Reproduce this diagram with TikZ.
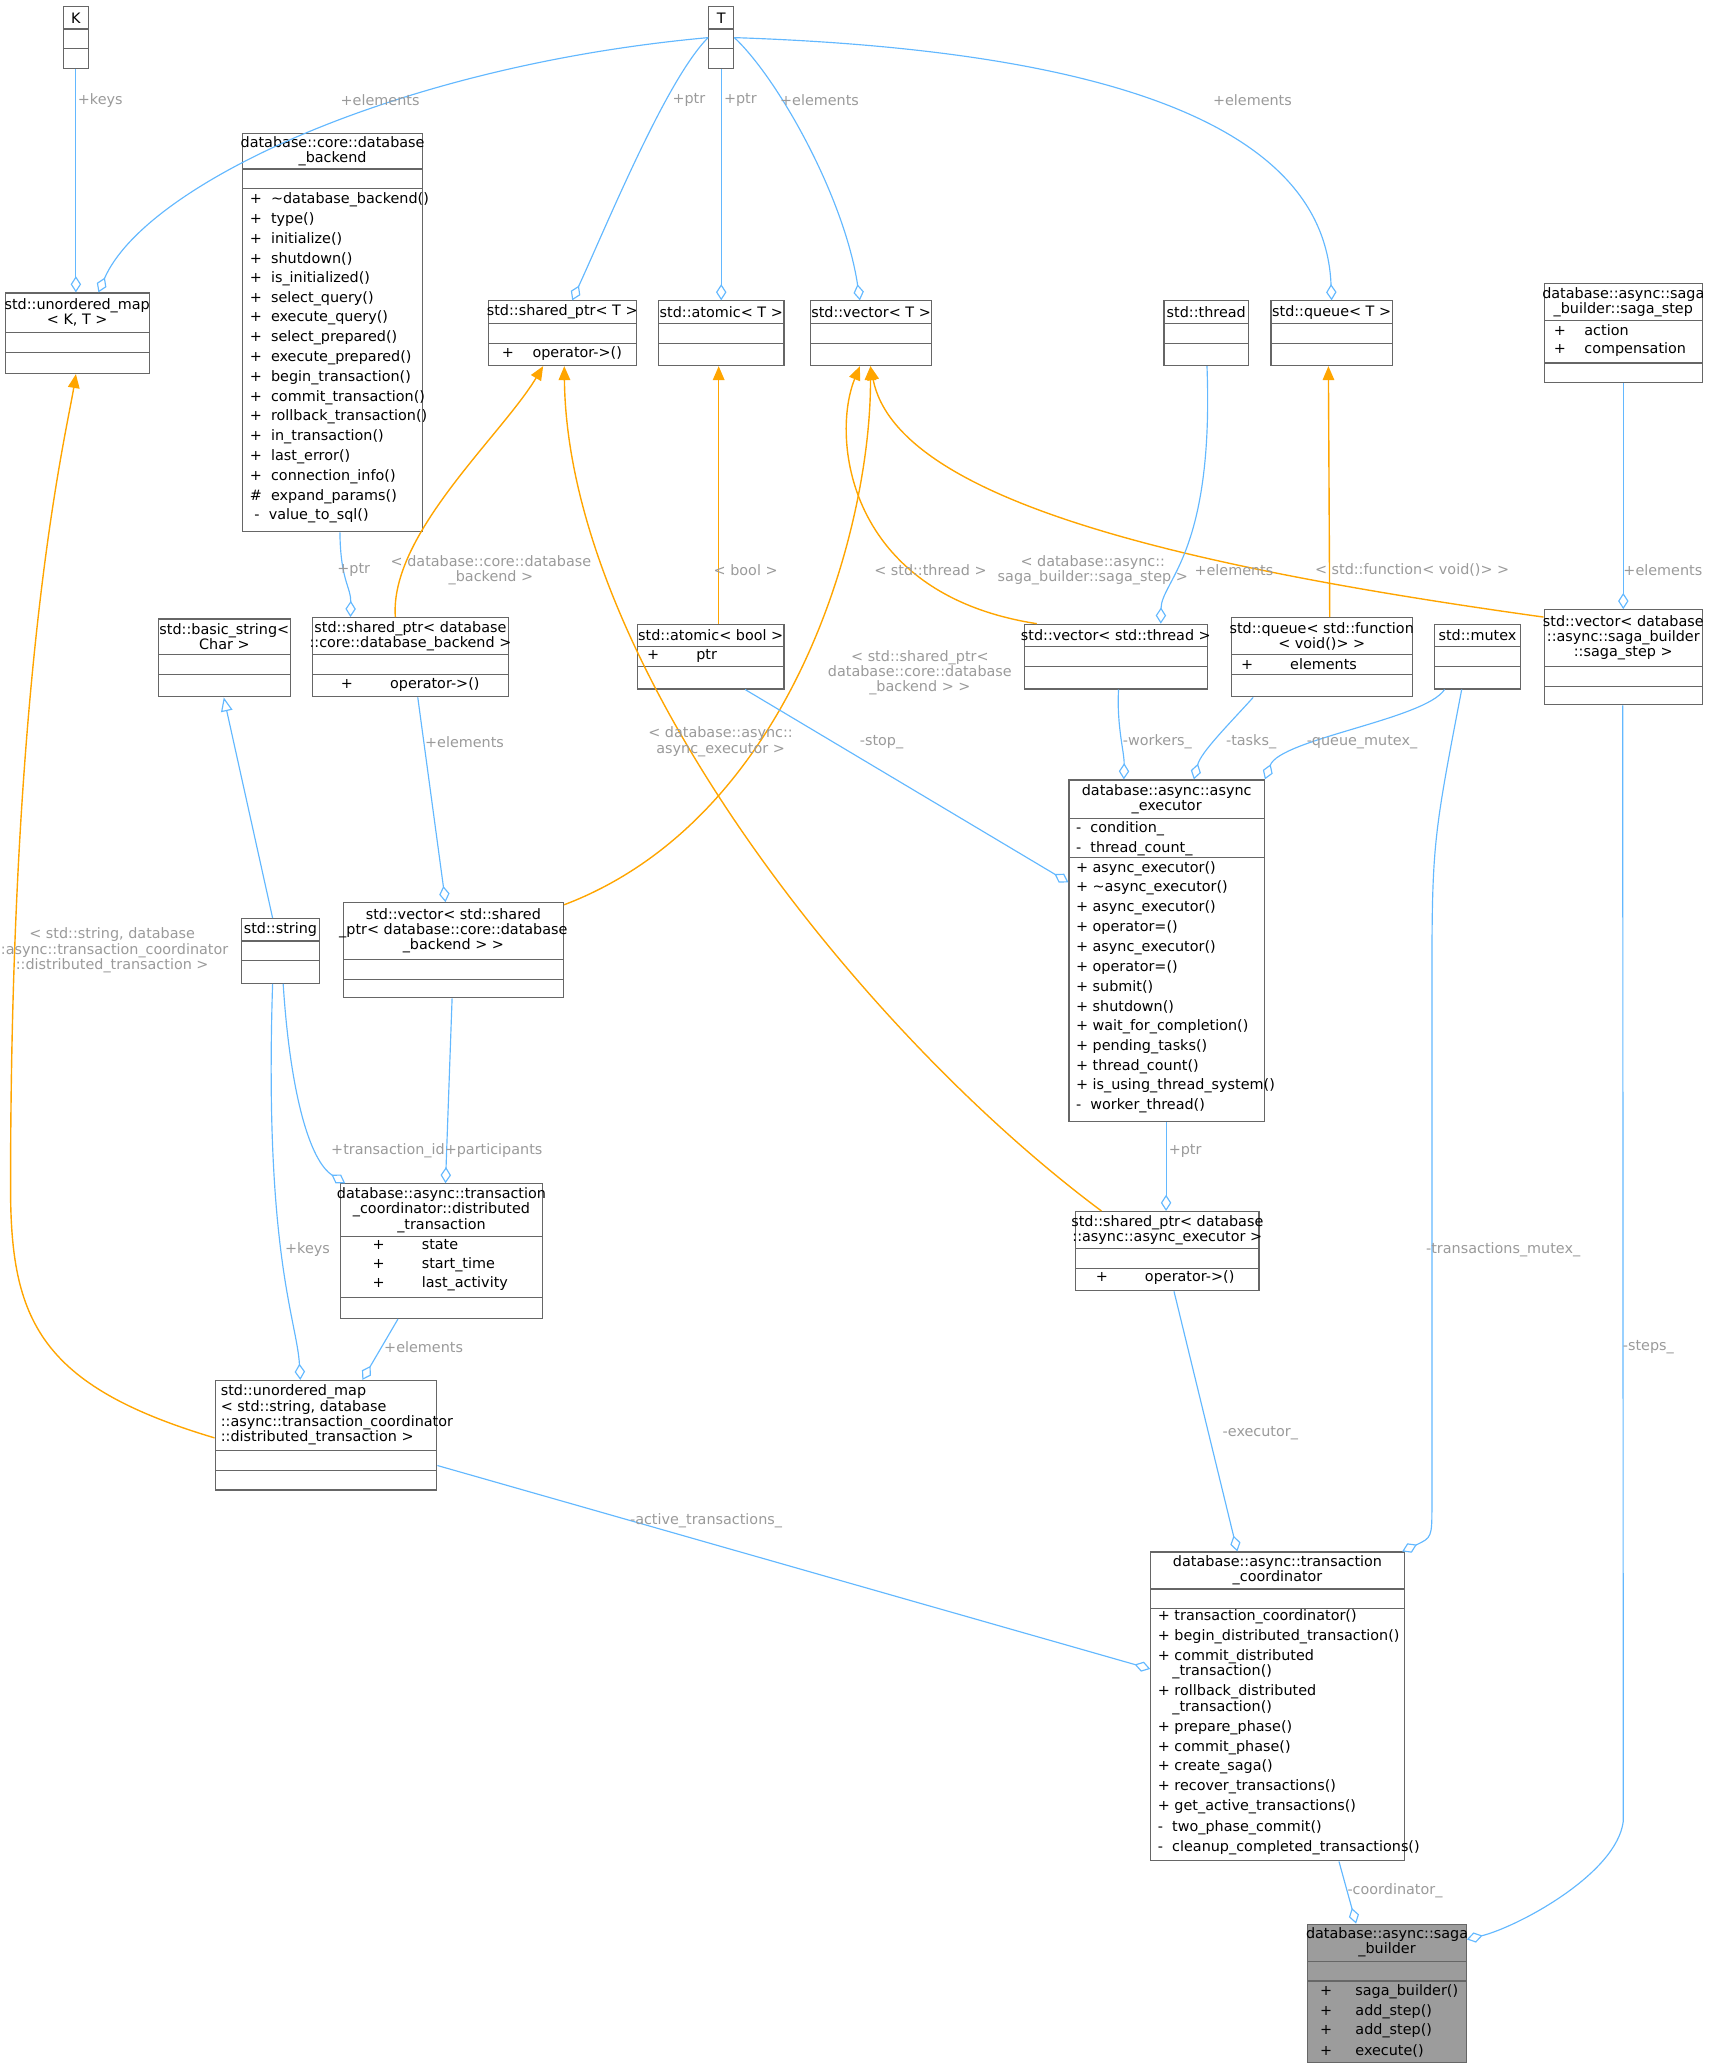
\documentclass[tikz,border=0pt]{standalone}
\usepackage{fontspec}
\setmainfont{DejaVu Sans}
\usetikzlibrary{fit,calc,arrows.meta}
\definecolor{eblue}{HTML}{63B8FF}
\definecolor{eor}{HTML}{FFA500}
\definecolor{lgray}{HTML}{9A9A9A}
\definecolor{bgray}{HTML}{666666}
\newcommand\ClsBox[5]{\node[clsb,fit={(#2,#3)(#4,#5)}] (#1) {};}
\newcommand\HLn[3]{\draw[clsl] (#1,#3) -- (#2,#3);}
\newcommand\Mem[3]{\node[mem] at (#1,#2) {#3};}
\newcommand\Ttl[3]{\node[ttl] at (#1,#2) {#3};}
\newcommand\Lbl[3]{\node[lbl] at (#1,#2) {#3};}
\begin{document}
\begin{tikzpicture}[x=0.02cm,y=-0.02cm,
  clsb/.style={draw=bgray,inner sep=0pt,line width=0.5pt},
  clsl/.style={draw=bgray,line width=0.5pt},
  txt/.style={font=\fontsize{6.2}{6.5}\selectfont,inner sep=0pt},
  mem/.style={txt,anchor=west},
  ttl/.style={txt,align=center},
  lbl/.style={txt,align=center,text=lgray},
  agg/.style={draw=eblue,line width=0.5pt,-{Diamond[open,length=7pt,width=4.5pt]}},
  tmpl/.style={draw=eor,line width=0.6pt,-{Triangle[length=6pt,width=5pt]},eor},
  inh/.style={draw=eblue,line width=0.5pt,-{Triangle[open,length=6pt,width=5pt]}}]
\useasboundingbox (0,0) rectangle (1296,1570);
% gray fill for saga_builder
\fill[gray!78] (991,1458) rectangle (1111,1563);
% ---- boxes
\ClsBox{K}{48}{5}{67}{52}\HLn{48}{67}{22}\HLn{48}{67}{37}\Ttl{57.5}{13.5}{K}
\ClsBox{T}{537}{5}{556}{52}\HLn{537}{556}{22}\HLn{537}{556}{37}\Ttl{546.5}{13.5}{T}
\ClsBox{umapKT}{4}{222}{113}{283}\HLn{4}{113}{252}\HLn{4}{113}{267}\Ttl{58.5}{237}{std::unordered\_map\\< K, T >}
\ClsBox{backend}{184}{101}{320}{403}\HLn{184}{320}{128}\HLn{184}{320}{143}\Ttl{252}{114.5}{database::core::database\\\_backend}
\foreach \t [count=\i from 0] in {+\ \ \textasciitilde database\_backend(),+\ \ type(),+\ \ initialize(),+\ \ shutdown(),+\ \ is\_initialized(),+\ \ select\_query(),+\ \ execute\_query(),+\ \ select\_prepared(),+\ \ execute\_prepared(),+\ \ begin\_transaction(),+\ \ commit\_transaction(),+\ \ rollback\_transaction(),+\ \ in\_transaction(),+\ \ last\_error(),+\ \ connection\_info(),\#\ \ expand\_params(),\ -\ \ value\_to\_sql()}
  {\node[mem] at (189,151+15*\i) {\t};}
\ClsBox{sharedT}{370}{228}{482}{277}\HLn{370}{482}{245}\HLn{370}{482}{260}\Ttl{426}{236.5}{std::shared\_ptr< T >}\Mem{380}{268}{+\hspace{8pt}operator->()}
\ClsBox{atomicT}{499}{228}{594}{277}\HLn{499}{594}{245}\HLn{499}{594}{260}\Ttl{546.5}{236.5}{std::atomic< T >}
\ClsBox{vecT}{614}{228}{706}{277}\HLn{614}{706}{245}\HLn{614}{706}{260}\Ttl{660}{236.5}{std::vector< T >}
\ClsBox{thread}{882}{228}{946}{277}\HLn{882}{946}{245}\HLn{882}{946}{260}\Ttl{914}{236.5}{std::thread}
\ClsBox{queueT}{963}{228}{1055}{277}\HLn{963}{1055}{245}\HLn{963}{1055}{260}\Ttl{1009}{236.5}{std::queue< T >}
\ClsBox{sagaStep}{1170}{215}{1290}{290}\HLn{1170}{1290}{243}\HLn{1170}{1290}{275}\Ttl{1230}{229}{database::async::saga\\\_builder::saga\_step}
\Mem{1177}{250}{+\hspace{8pt}action}\Mem{1177}{265}{+\hspace{8pt}compensation}
\ClsBox{basicString}{120}{469}{220}{528}\HLn{120}{220}{496}\HLn{120}{220}{511}\Ttl{170}{482.5}{std::basic\_string<\\Char >}
\ClsBox{spBackend}{237}{468}{385}{528}\HLn{237}{385}{496}\HLn{237}{385}{511}\Ttl{311}{482}{std::shared\_ptr< database\\::core::database\_backend >}\Mem{258}{519}{+\hspace{16pt}operator->()}
\ClsBox{atomicBool}{483}{473}{594}{522}\HLn{483}{594}{490}\HLn{483}{594}{505}\Ttl{538.5}{481.5}{std::atomic< bool >}\Mem{490}{497}{+\hspace{16pt}ptr}
\ClsBox{vecThread}{776}{473}{915}{522}\HLn{776}{915}{490}\HLn{776}{915}{505}\Ttl{845.5}{481.5}{std::vector< std::thread >}
\ClsBox{queueFn}{933}{468}{1070}{528}\HLn{933}{1070}{496}\HLn{933}{1070}{511}\Ttl{1001.5}{482}{std::queue< std::function\\< void()> >}\Mem{940}{503}{+\hspace{16pt}elements}
\ClsBox{mutex}{1087}{473}{1152}{522}\HLn{1087}{1152}{490}\HLn{1087}{1152}{505}\Ttl{1119.5}{481.5}{std::mutex}
\ClsBox{vecSaga}{1170}{462}{1290}{534}\HLn{1170}{1290}{505}\HLn{1170}{1290}{520}\Ttl{1230}{483.5}{std::vector< database\\::async::saga\_builder\\::saga\_step >}
\ClsBox{ae}{810}{591}{958}{850}\HLn{810}{958}{620}\HLn{810}{958}{650}\Ttl{884}{605.5}{database::async::async\\\_executor}
\Mem{815}{628}{-\ \ condition\_}\Mem{815}{643}{-\ \ thread\_count\_}
\foreach \t [count=\i from 0] in {+\ async\_executor(),+\ \textasciitilde async\_executor(),+\ async\_executor(),+\ operator=(),+\ async\_executor(),+\ operator=(),+\ submit(),+\ shutdown(),+\ wait\_for\_completion(),+\ pending\_tasks(),+\ thread\_count(),+\ is\_using\_thread\_system(),-\ \ worker\_thread()}
  {\node[mem] at (815,658+15*\i) {\t};}
\ClsBox{string}{183}{696}{242}{745}\HLn{183}{242}{713}\HLn{183}{242}{728}\Ttl{212.5}{704.5}{std::string}
\ClsBox{vecSpB}{260}{684}{427}{756}\HLn{260}{427}{727}\HLn{260}{427}{742}\Ttl{343.5}{705.5}{std::vector< std::shared\\\_ptr< database::core::database\\\_backend > >}
\ClsBox{dt}{258}{897}{411}{999}\HLn{258}{411}{937}\HLn{258}{411}{983}\Ttl{334.5}{917}{database::async::transaction\\\_coordinator::distributed\\\_transaction}
\Mem{282}{943}{+\hspace{16pt}state}\Mem{282}{958}{+\hspace{16pt}start\_time}\Mem{282}{973}{+\hspace{16pt}last\_activity}
\ClsBox{spAE}{815}{918}{954}{978}\HLn{815}{954}{946}\HLn{815}{954}{961}\Ttl{884.5}{932}{std::shared\_ptr< database\\::async::async\_executor >}\Mem{830}{968}{+\hspace{16pt}operator->()}
\ClsBox{umapS}{163}{1046}{331}{1129}\HLn{163}{331}{1099}\HLn{163}{331}{1114}
\node[txt,align=left,anchor=west] at (167,1072) {std::unordered\_map\\< std::string, database\\::async::transaction\_coordinator\\::distributed\_transaction >};
\ClsBox{coord}{872}{1176}{1064}{1410}\HLn{872}{1064}{1204}\HLn{872}{1064}{1219}\Ttl{968}{1190}{database::async::transaction\\\_coordinator}
\Mem{877}{1225}{+\ transaction\_coordinator()}\Mem{877}{1240}{+\ begin\_distributed\_transaction()}
\Mem{877}{1255}{+\ commit\_distributed}\Mem{888}{1267}{\_transaction()}
\Mem{877}{1282}{+\ rollback\_distributed}\Mem{888}{1294}{\_transaction()}
\Mem{877}{1309}{+\ prepare\_phase()}\Mem{877}{1324}{+\ commit\_phase()}\Mem{877}{1339}{+\ create\_saga()}
\Mem{877}{1354}{+\ recover\_transactions()}\Mem{877}{1369}{+\ get\_active\_transactions()}
\Mem{877}{1385}{-\ \ two\_phase\_commit()}\Mem{877}{1400}{-\ \ cleanup\_completed\_transactions()}
\ClsBox{sagaB}{991}{1458}{1111}{1563}\HLn{991}{1111}{1486}\HLn{991}{1111}{1501}\Ttl{1051}{1472}{database::async::saga\\\_builder}
\Mem{1000}{1509}{+\hspace{10pt}saga\_builder()}\Mem{1000}{1524}{+\hspace{10pt}add\_step()}\Mem{1000}{1539}{+\hspace{10pt}add\_step()}\Mem{1000}{1554}{+\hspace{10pt}execute()}
% ---- edges
\draw[agg] (K.south) -- (K.south |- umapKT.north);
\draw[agg] (T.west) .. controls (300,50) and (110,140) .. ($(umapKT.north west)+(71,0)$);
\draw[agg] (T.west) .. controls (505,60) and (460,170) .. ($(sharedT.north west)+(64,0)$);
\draw[agg] (T.south) -- (T.south |- atomicT.north);
\draw[agg] (T.east) .. controls (590,60) and (640,150) .. ($(vecT.north west)+(38,0)$);
\draw[agg] (T.east) .. controls (900,40) and (1005,120) .. (queueT.north);
\draw[agg] ($(backend.south west)+(74,0)$) .. controls (258,440) and (266,445) .. ($(spBackend.north west)+(29,0)$);
\draw[tmpl] ($(spBackend.north west)+(63,0)$) .. controls (295,405) and (380,330) .. ($(sharedT.south west)+(42,0)$);
\draw[tmpl] ($(atomicBool.north west)+(62,0)$) -- ($(atomicT.south west)+(46,0)$);
\draw[tmpl] ($(vecThread.north west)+(10,0)$) .. controls (640,450) and (630,330) .. ($(vecT.south west)+(38,0)$);
\draw[tmpl] ($(vecSaga.north west)+(0,6)$) .. controls (900,430) and (680,380) .. ($(vecT.south west)+(46,0)$);
\draw[tmpl] ($(vecSpB.north east)+(0,2)$) .. controls (600,620) and (660,400) .. ($(vecT.south west)+(46,0)$);
\draw[tmpl] ($(spAE.north west)+(20,0)$) .. controls (650,780) and (430,500) .. ($(sharedT.south west)+(58,0)$);
\draw[tmpl] ($(umapS.west)+(0,2)$) .. controls (30,1050) and (8,1000) .. (8,900) .. controls (8,500) and (50,330) .. ($(umapKT.south west)+(54,0)$);
\draw[agg] ($(thread.south west)+(33,0)$) .. controls (920,420) and (880,440) .. ($(vecThread.north west)+(104,0)$);
\draw[tmpl] ($(queueFn.north west)+(75,0)$) -- ($(queueT.south west)+(44,0)$);
\draw[agg] (sagaStep.south) -- (sagaStep.south |- vecSaga.north);
\draw[inh] ($(string.north west)+(24,0)$) -- ($(basicString.south west)+(50,0)$);
\draw[agg] ($(spBackend.south west)+(80,0)$) -- ($(vecSpB.north west)+(78,0)$);
\draw[agg] ($(atomicBool.south west)+(82,0)$) -- ($(ae.north west)+(0,78)$);
\draw[agg] ($(vecThread.south west)+(72,0)$) .. controls (846,550) and (852,570) .. ($(ae.north west)+(42,0)$);
\draw[agg] ($(queueFn.south west)+(17,0)$) .. controls (930,550) and (910,570) .. ($(ae.north west)+(95,0)$);
\draw[agg] ($(mutex.south west)+(8,0)$) .. controls (1080,545) and (970,560) .. (ae.north east);
\draw[agg] ($(string.south west)+(32,0)$) .. controls (220,830) and (235,880) .. ($(dt.north west)+(4,0)$);
\draw[agg] ($(string.south west)+(24,0)$) .. controls (200,950) and (225,1000) .. ($(umapS.north west)+(65,0)$);
\draw[agg] ($(vecSpB.south west)+(83,0)$) -- ($(dt.north west)+(80,0)$);
\draw[agg] ($(dt.south west)+(44,0)$) -- ($(umapS.north west)+(112,0)$);
\draw[agg] ($(ae.south west)+(74,0)$) -- ($(spAE.north west)+(69,0)$);
\draw[agg] ($(spAE.south west)+(75,0)$) -- ($(coord.north west)+(66,0)$);
\draw[agg] ($(mutex.south west)+(21,0)$) .. controls (1085,640) .. (1085,760) -- (1085,1140) .. controls (1085,1165) .. ($(coord.north east)+(-2,0)$);
\draw[agg] ($(umapS.south east)+(0,-19)$) -- ($(coord.north west)+(0,89)$);
\draw[agg] ($(coord.south west)+(143,0)$) -- ($(sagaB.north west)+(37,0)$);
\draw[agg] ($(vecSaga.south west)+(60,0)$) -- (1230,1380) .. controls (1225,1420) and (1150,1460) .. ($(sagaB.north east)+(0,12)$);
% ---- labels
\Lbl{76}{76}{+keys}\Lbl{288}{76}{+elements}\Lbl{522}{76}{+ptr}\Lbl{561}{76}{+ptr}\Lbl{621}{76}{+elements}\Lbl{949}{76}{+elements}
\Lbl{268}{432}{+ptr}\Lbl{372}{432}{< database::core::database\\\_backend >}\Lbl{565}{432}{< bool >}\Lbl{705}{432}{< std::thread >}
\Lbl{828}{432}{< database::async::\\saga\_builder::saga\_step >}\Lbl{935}{432}{+elements}\Lbl{1070}{432}{< std::function< void()> >}\Lbl{1260}{432}{+elements}
\Lbl{697}{510}{< std::shared\_ptr<\\database::core::database\\\_backend > >}\Lbl{546}{562}{< database::async::\\async\_executor >}
\Lbl{352}{562}{+elements}\Lbl{668}{562}{-stop\_}\Lbl{877}{562}{-workers\_}\Lbl{948}{562}{-tasks\_}\Lbl{1032}{562}{-queue\_mutex\_}
\Lbl{85}{720}{< std::string, database\\::async::transaction\_coordinator\\::distributed\_transaction >}
\Lbl{294}{872}{+transaction\_id}\Lbl{374}{872}{+participants}\Lbl{898}{872}{+ptr}\Lbl{233}{947}{+keys}\Lbl{1139}{947}{-transactions\_mutex\_}
\Lbl{321}{1021}{+elements}\Lbl{1249}{1021}{-steps\_}\Lbl{955}{1086}{-executor\_}\Lbl{535}{1152}{-active\_transactions\_}\Lbl{1057}{1433}{-coordinator\_}
\end{tikzpicture}
\end{document}
